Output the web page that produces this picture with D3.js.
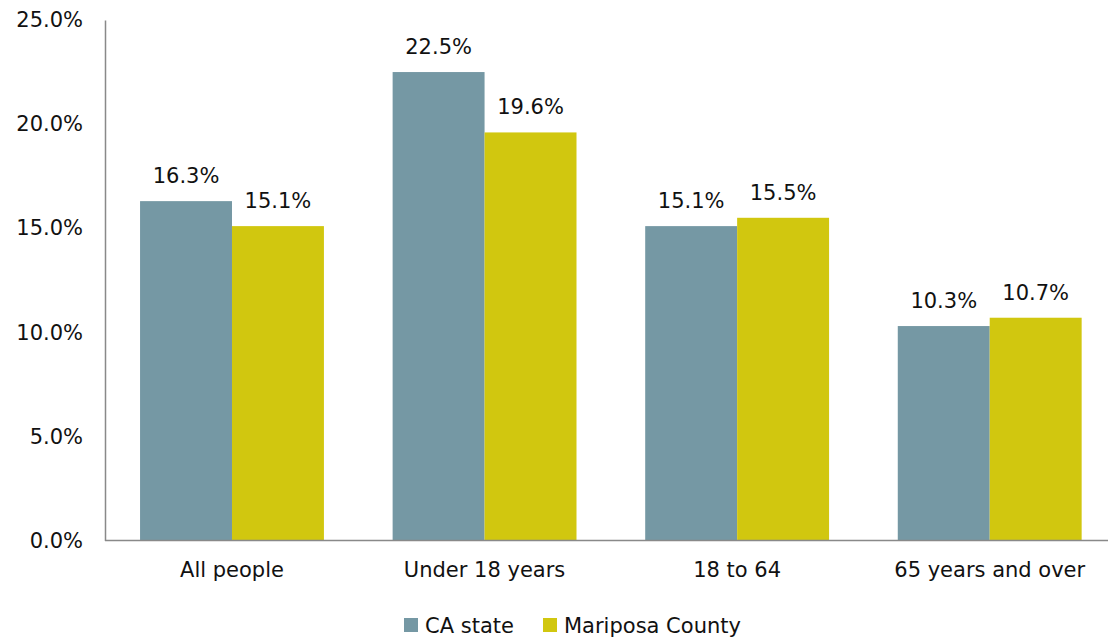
<!DOCTYPE html>
<html><head><meta charset="utf-8">
<script src="https://cdn.jsdelivr.net/npm/d3@7"></script>
<style>body{margin:0;background:#fff}svg{display:block}text{font-family:"DejaVu Sans",sans-serif;fill:#111}</style>
</head><body><svg id="c" width="1108" height="641"></svg>
<script>
const categories = ["All people", "Under 18 years", "18 to 64", "65 years and over"];
const seriesNames = ["CA state", "Mariposa County"];
const caState = [16.3, 22.5, 15.1, 10.3];
const mariposa = [15.1, 19.6, 15.5, 10.7];
const yTicks = [0, 5, 10, 15, 20, 25];
const colors = ["#7598A4", "#D1C70F"];
const FONT = "DejaVu Sans, sans-serif";
const FS = 21;

const svg = d3.select("#c");
const x0 = d3.scaleBand().domain(categories).range([105.7, 1116]).paddingInner(0.272).paddingOuter(0.136);
const x1 = d3.scaleBand().domain(seriesNames).range([0, x0.bandwidth()]);
const y = d3.scaleLinear().domain([0, 25]).range([540.5, 20]);
const fmt = d => d.toFixed(1) + "%";

// y axis
const ya = svg.append("g").attr("transform", "translate(105,0)")
  .call(d3.axisLeft(y).tickValues(yTicks).tickFormat(fmt).tickSize(0).tickPadding(22));
ya.select(".domain").attr("stroke", "#898989").attr("stroke-width", 1.5);
ya.selectAll("text").attr("font-size", FS).attr("fill", "#111").attr("font-family", FONT);

const series = [caState, mariposa];
categories.forEach((c, i) => {
  seriesNames.forEach((s, j) => {
    const v = series[j][i];
    svg.append("rect").attr("x", x0(c) + x1(s)).attr("width", x1.bandwidth())
      .attr("y", y(v)).attr("height", y(0) - y(v)).attr("fill", colors[j]);
    svg.append("text").attr("x", x0(c) + x1(s) + x1.bandwidth() / 2).attr("y", y(v) - 18)
      .attr("text-anchor", "middle").attr("font-size", FS).text(fmt(v));
  });
});

// x axis
const xa = svg.append("g").attr("transform", "translate(0,540.5)")
  .call(d3.axisBottom(x0).tickSize(0).tickPadding(22));
xa.select(".domain").attr("d", "M105,0H1108").attr("stroke", "#898989").attr("stroke-width", 1.5);
xa.selectAll("text").attr("font-size", FS).attr("fill", "#111").attr("font-family", FONT);

// legend
const lg = svg.append("g");
const lx = [404, 543];
seriesNames.forEach((s, j) => {
  lg.append("rect").attr("x", lx[j]).attr("y", 618).attr("width", 14).attr("height", 14).attr("fill", colors[j]);
  lg.append("text").attr("x", lx[j] + 21).attr("y", 633).attr("font-size", FS).text(s);
});
</script></body></html>
